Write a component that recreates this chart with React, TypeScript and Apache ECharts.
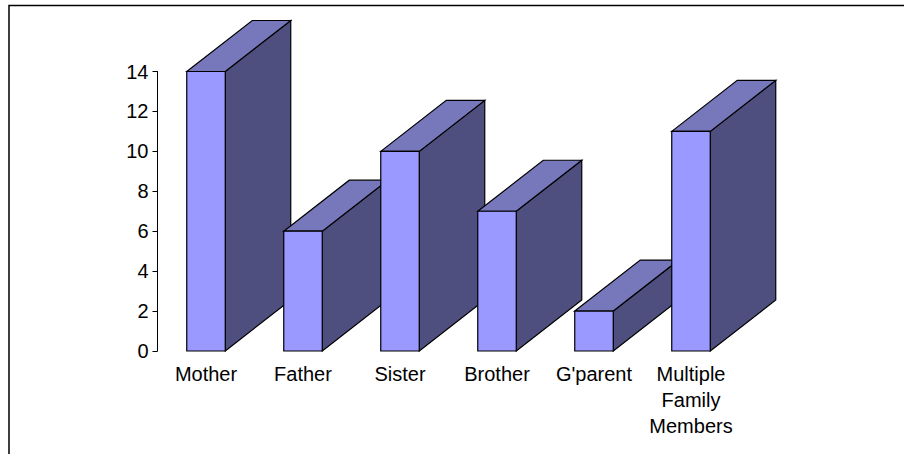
import React, { useEffect, useRef } from "react";
import * as echarts from "echarts";

const categories = ["Mother", "Father", "Sister", "Brother", "G'parent", "Multiple\nFamily\nMembers"];
const values = [14, 6, 10, 7, 2, 11];
const yTicks = [0, 2, 4, 6, 8, 10, 12, 14];

const FRONT_COLOR = "#9999ff";
const TOP_COLOR = "#7777bb";
const SIDE_COLOR = "#4e4e7f";
const BAR_WIDTH = 38.5;
const DEPTH_X = 65.5;
const DEPTH_Y = 51;
const EDGE = { stroke: "#000", lineWidth: 1.2 };
const FONT = "Liberation Sans, Arial, sans-serif";

export default function App() {
  const ref = useRef<HTMLDivElement>(null);
  useEffect(() => {
    const chart = echarts.init(ref.current!, undefined, { renderer: "svg" });
    chart.setOption({
      animation: false,
      backgroundColor: "#fff",
      grid: { left: 157.5, top: 71.5, width: 582, height: 279.5, containLabel: false },
      graphic: [
        {
          type: "polyline",
          silent: true,
          z: -1,
          shape: { points: [[9, 454], [9, 5.5], [904, 5.5]] },
          style: { fill: "none", stroke: "#000", lineWidth: 1.5 },
        },
      ],
      xAxis: {
        type: "category",
        data: categories,
        axisLine: { show: false },
        axisTick: { show: false },
        axisLabel: {
          color: "#000",
          fontFamily: FONT,
          fontSize: 20,
          lineHeight: 26,
          margin: 10,
          interval: 0,
        },
      },
      yAxis: {
        type: "value",
        min: 0,
        max: 14,
        interval: 2,
        splitLine: { show: false },
        axisLine: { show: true, onZero: false, lineStyle: { color: "#000", width: 1 } },
        axisTick: { show: true, length: 5, lineStyle: { color: "#000", width: 1 } },
        axisLabel: {
          color: "#000",
          fontFamily: FONT,
          fontSize: 20,
          margin: 9,
          formatter: (v: number) => (yTicks.includes(v) ? String(v) : ""),
        },
      },
      series: [
        {
          type: "custom",
          clip: false,
          data: values.map((v, i) => [i, v]),
          encode: { x: 0, y: 1 },
          renderItem: (_p: any, api: any) => {
            const top = api.coord([api.value(0), api.value(1)]);
            const base = api.coord([api.value(0), 0]);
            const l = top[0] - BAR_WIDTH / 2;
            const r = top[0] + BAR_WIDTH / 2;
            const t = top[1];
            const b = base[1];
            return {
              type: "group",
              children: [
                {
                  type: "polygon",
                  shape: { points: [[r, t], [r + DEPTH_X, t - DEPTH_Y], [r + DEPTH_X, b - DEPTH_Y], [r, b]] },
                  style: { fill: SIDE_COLOR, ...EDGE },
                },
                {
                  type: "polygon",
                  shape: { points: [[l, t], [l + DEPTH_X, t - DEPTH_Y], [r + DEPTH_X, t - DEPTH_Y], [r, t]] },
                  style: { fill: TOP_COLOR, ...EDGE },
                },
                {
                  type: "rect",
                  shape: { x: l, y: t, width: BAR_WIDTH, height: b - t },
                  style: { fill: FRONT_COLOR, ...EDGE },
                },
              ],
            };
          },
        },
      ],
    });
    return () => chart.dispose();
  }, []);
  return <div ref={ref} style={{ position: "absolute", left: 0, top: 0, width: 904, height: 454 }} />;
}
